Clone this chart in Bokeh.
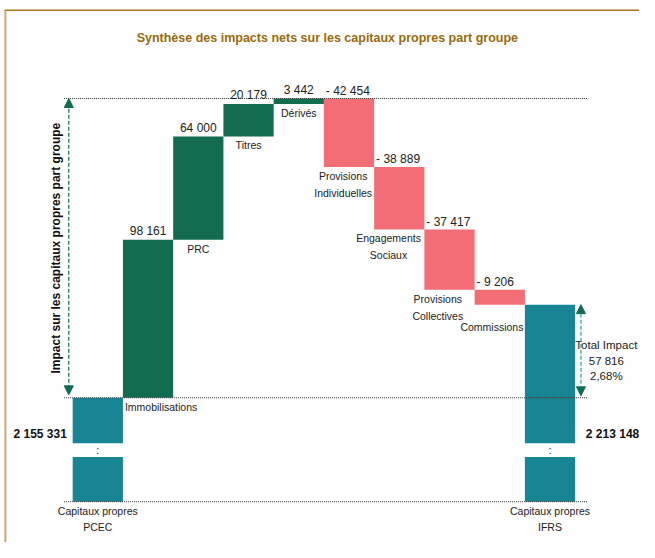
from math import pi
from bokeh.plotting import figure
from bokeh.models import Range1d, Arrow, NormalHead
from bokeh.core.properties import value
from bokeh.embed import file_html
from bokeh.resources import INLINE

# ---------------- data ----------------
title_text = "Synthèse des impacts nets sur les capitaux propres part groupe"
side_title = "Impact sur les capitaux propres part groupe"
start_label = "Capitaux propres\nPCEC"
end_label = "Capitaux propres\nIFRS"
step_labels = ["Immobilisations", "PRC", "Titres", "Dérivés",
               "Provisions\nIndividuelles", "Engagements\nSociaux",
               "Provisions\nCollectives", "Commissions"]
step_values = [98161, 64000, 20179, 3442, -42454, -38889, -37417, -9206]
start_total = 2155331
end_total = 2213148
total_impact = 57816
total_impact_pct = "2,68%"

# ---------------- layout ----------------
W, H = 639, 542              # figure size in pixels
REF_W, REF_H = 655, 558      # design grid the layout numbers refer to
BAR_PX = 51.5                # width of one bar slot (design px)
X0_PX = 74                   # left edge of first bar (design px)
BASE_PX = 409                # row of the opening total (design px)
UNITS_PER_PX = 603.0         # value units per design pixel

FONT = "Liberation Sans"
C_POS = "#136B50"
C_NEG = "#F26D76"
C_TOT = "#188594"
C_TXT = "#222222"


def px_x(rx):
    return (rx - X0_PX) / BAR_PX


def px_y(ry):
    return start_total + (BASE_PX - ry) * UNITS_PER_PX


def dx(px):
    return px / BAR_PX


def dy(px):
    return px * UNITS_PER_PX


def fmt(n):
    s = f"{abs(n):,}".replace(",", " ")
    return ("- " + s) if n < 0 else s


p = figure(width=W, height=H, x_range=Range1d(px_x(0), px_x(REF_W)),
           y_range=Range1d(px_y(REF_H), px_y(0)), output_backend="svg",
           toolbar_location=None, x_axis_location=None, y_axis_location=None,
           min_border=0)
p.grid.visible = False
p.outline_line_color = None
p.background_fill_color = "white"

# ---------------- waterfall steps ----------------
lefts, rights, bottoms, tops, colors = [], [], [], [], []
cum = start_total
for i, v in enumerate(step_values):
    lefts.append(i + 1)
    rights.append(i + 2)
    bottoms.append(min(cum, cum + v))
    tops.append(max(cum, cum + v))
    colors.append(C_POS if v > 0 else C_NEG)
    cum += v
peak = max(tops)

p.quad(left=lefts, right=rights, bottom=bottoms, top=tops,
       fill_color=colors, line_color=None)

# opening / closing totals drawn as broken bars
floor_y = px_y(516)
gap_lo = px_y(470)
gap_hi = px_y(455.7)
tot_idx = [0, len(step_values) + 1]
tot_levels = [start_total, end_total]
for i, lvl in zip(tot_idx, tot_levels):
    p.quad(left=[i, i], right=[i + 1, i + 1], bottom=[floor_y, gap_hi],
           top=[gap_lo, lvl], fill_color=C_TOT, line_color=None)
    p.text(x=[i + 0.5], y=[(gap_lo + gap_hi) / 2], text=[":"],
           text_align="center", text_baseline="middle", text_font=value(FONT),
           text_font_size="11px", text_color=C_TXT)

# dotted reference lines
line_x0, line_x1 = px_x(65), px_x(601.7)
for yy in [peak, start_total, floor_y]:
    p.segment(x0=[line_x0], x1=[line_x1], y0=[yy], y1=[yy],
              line_color="#333333", line_dash="1 1", line_width=1)

# value labels
for i, v in enumerate(step_values):
    if v > 0:
        p.text(x=[i + 1.5], y=[tops[i] + dy(2)], text=[fmt(v)],
               text_align="center", text_baseline="bottom",
               text_font=value(FONT), text_font_size="12px", text_color=C_TXT)
    else:
        p.text(x=[i + 1 + dx(2)], y=[tops[i] + dy(1)], text=[fmt(v)],
               text_align="left", text_baseline="bottom",
               text_font=value(FONT), text_font_size="12px", text_color=C_TXT)

# category labels: (align, x shift px, extra drop px)
cat_layout = [("left", 2, 0), ("center", 0, 0), ("center", 0, 0), ("center", 0, 0),
              ("center", -6, 0), ("center", -11, 0), ("center", -12, 0),
              ("center", -8, 14)]
for i, (lab, (al, sx, sd)) in enumerate(zip(step_labels, cat_layout)):
    xx = (i + 1 + dx(sx)) if al == "left" else (i + 1.5 + dx(sx))
    p.text(x=[xx], y=[bottoms[i] - dy(3 + sd)], text=[lab], text_align=al,
           text_baseline="top", text_font=value(FONT), text_font_size="10.5px",
           text_color=C_TXT, text_line_height=1.4)

for i, lab in zip(tot_idx, [start_label, end_label]):
    p.text(x=[i + 0.5], y=[floor_y - dy(3)], text=[lab], text_align="center",
           text_baseline="top", text_font=value(FONT), text_font_size="10.5px",
           text_color=C_TXT, text_line_height=1.4)

# bold totals
p.text(x=[tot_idx[0] - dx(6)], y=[px_y(446.7)], text=[fmt(start_total)],
       text_align="right", text_baseline="middle", text_font=value(FONT),
       text_font_size="12px", text_font_style="bold", text_color="#111111")
p.text(x=[tot_idx[1] + 1 + dx(11)], y=[px_y(446.7)], text=[fmt(end_total)],
       text_align="left", text_baseline="middle", text_font=value(FONT),
       text_font_size="12px", text_font_style="bold", text_color="#111111")

# arrows
left_x = px_x(70)
p.add_layout(Arrow(start=NormalHead(size=9, fill_color=C_POS, line_color=C_POS),
                   end=NormalHead(size=9, fill_color=C_POS, line_color=C_POS),
                   x_start=left_x, y_start=start_total + dy(3),
                   x_end=left_x, y_end=peak,
                   line_color="#1F7A5A", line_dash="4 2", line_width=1.3))
right_x = px_x(595)
p.add_layout(Arrow(start=NormalHead(size=9, fill_color=C_POS, line_color=C_POS),
                   end=NormalHead(size=9, fill_color=C_POS, line_color=C_POS),
                   x_start=right_x, y_start=start_total + dy(2),
                   x_end=right_x, y_end=end_total,
                   line_color="#2FB383", line_dash="4 2", line_width=1.3))

p.text(x=[px_x(57)], y=[(start_total + peak) / 2], text=[side_title], angle=pi / 2,
       text_align="center", text_baseline="middle", text_font=value(FONT),
       text_font_size="12px", text_font_style="bold", text_color="#111111")

p.text(x=[px_x(621)], y=[px_y(371)],
       text=["Total Impact\n" + fmt(total_impact) + "\n" + total_impact_pct],
       text_align="center", text_baseline="middle", text_font=value(FONT),
       text_font_size="11.5px", text_color=C_TXT, text_line_height=1.3)

# title and frame border
p.text(x=[px_x(335)], y=[px_y(39)], text=[title_text], text_align="center",
       text_baseline="middle", text_font=value(FONT), text_font_size="12.5px",
       text_font_style="bold", text_color="#9A6A0C")
p.segment(x0=[px_x(4)], x1=[px_x(REF_W)], y0=[px_y(10)], y1=[px_y(10)],
          line_color="#A5781A", line_width=1.5)
p.segment(x0=[px_x(5)], x1=[px_x(5)], y0=[px_y(10)], y1=[px_y(REF_H)],
          line_color="#CBAA6E", line_width=2)

open("out.html", "w").write(file_html(p, INLINE))
